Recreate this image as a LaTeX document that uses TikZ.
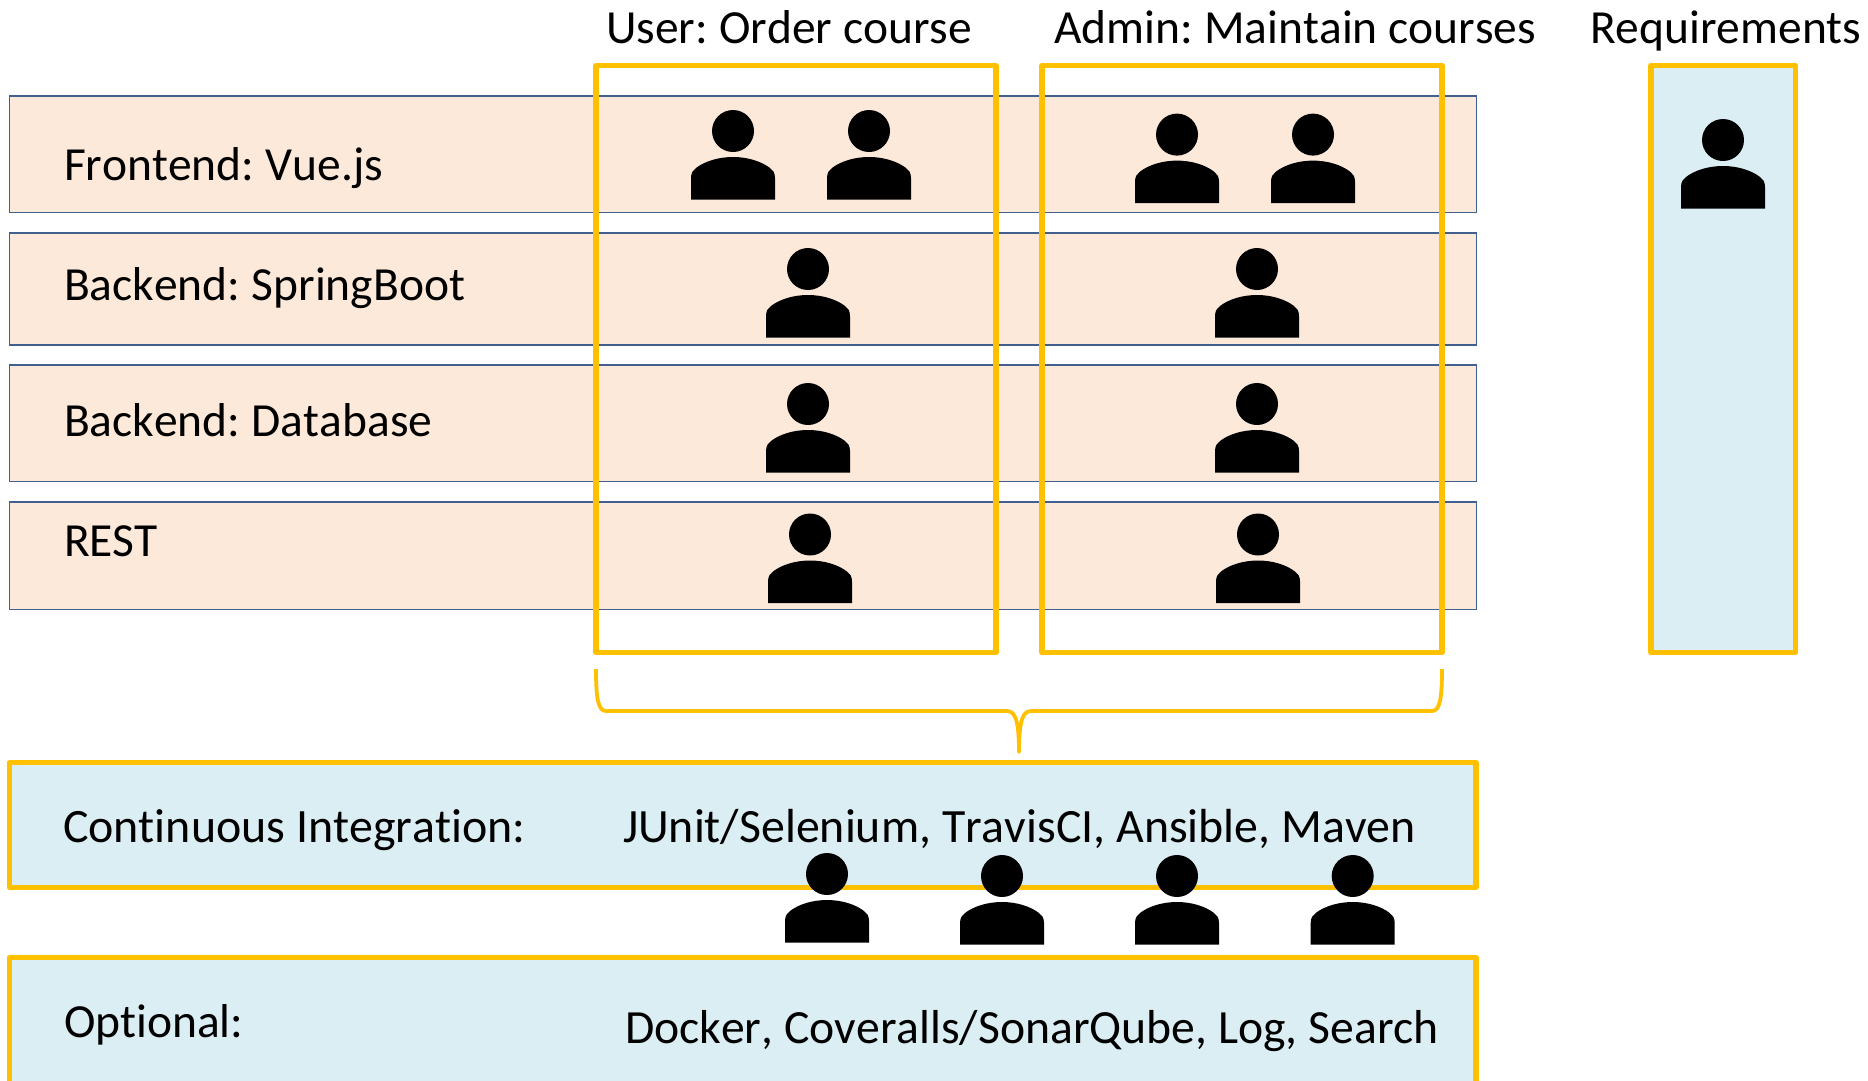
\documentclass[tikz,border=0pt]{standalone}
\usepackage{fontspec}
\setmainfont[Ligatures=NoCommon,Kerning=Off]{Carlito}
\definecolor{peach}{HTML}{FDE9D9}
\definecolor{paleblue}{HTML}{DAEEF3}
\definecolor{gold}{HTML}{FFC000}
\definecolor{rowline}{HTML}{41608F}
\newcommand{\cs}{:\kern0.5pt\ }
\tikzset{
  rowbox/.style={draw=rowline,line width=1.6pt,fill=peach,rectangle,inner sep=0pt,outer sep=0pt,anchor=north west},
  goldbox/.style={draw=gold,line width=5.2pt,rectangle,inner sep=0pt,outer sep=0pt,anchor=north west,line join=round},
  bluebox/.style={goldbox,fill=paleblue},
  lbl/.style={anchor=base west,inner sep=0pt,outer sep=0pt,font=\fontsize{47.5}{55}\selectfont,text=black},
  person/.pic={
    \fill[black] (0,0) circle (21);
    \fill[black] (-42,68.5) -- (-42,47) .. controls (-42,42) and (-40,39) .. (-37,37) .. controls (-28,30) and (-14,26) .. (0,26) .. controls (14,26) and (28,30) .. (37,37) .. controls (40,39) and (42,42) .. (42,47) -- (42,68.5) -- cycle;
  }
}
\begin{document}
\begin{tikzpicture}[x=1pt,y=-1pt]
\useasboundingbox (0,0) rectangle (1868,1080);
\node[rowbox,minimum width=1467pt,minimum height=116.6pt] (r1) at (9.3,95.7) {};
\node[rowbox,minimum width=1467pt,minimum height=112.3pt] (r2) at (9.3,232.7) {};
\node[rowbox,minimum width=1467pt,minimum height=116.3pt] (r3) at (9.3,365) {};
\node[rowbox,minimum width=1467pt,minimum height=107.3pt] (r4) at (9.3,502) {};
\node[goldbox,minimum width=400pt,minimum height=587pt] (user) at (596,65.7) {};
\node[goldbox,minimum width=400pt,minimum height=587pt] (admin) at (1042,65.7) {};
\node[bluebox,minimum width=144.7pt,minimum height=587pt] (req) at (1651,65.7) {};
\node[bluebox,minimum width=1466.7pt,minimum height=124.4pt] (ci) at (9.3,762.7) {};
\node[bluebox,minimum width=1466.7pt,minimum height=130pt] (opt) at (9.3,957.7) {};
\draw[gold,line width=3.8pt,line join=round]
  (596,669) .. controls (596,698) and (598,711) .. (606,711) -- (1006,711)
  .. controls (1014,711) and (1019,716) .. (1019,752)
  .. controls (1019,716) and (1024,711) .. (1032,711) -- (1432,711)
  .. controls (1440,711) and (1442,698) .. (1442,669);
\node[lbl] (t1) at (606,43.2) {User\cs Order course};
\node[lbl] (t2) at (1054,43.2) {Admin\cs Maintain courses};
\node[lbl] (t3) at (1590,43.2) {Requirements};
\node[lbl] (t4) at (64,180) {Frontend\cs Vue.js};
\node[lbl] (t5) at (64,300) {Backend\cs SpringBoot};
\node[lbl] (t6) at (64,436) {Backend\cs Database};
\node[lbl] (t7) at (64,556.7) {REST};
\node[lbl,font=\fontsize{47.9}{55}\selectfont] (t8) at (63,842.7) {Continuous Integration:};
\node[lbl,font=\fontsize{47.8}{55}\selectfont] (t9) at (623,842.7) {JUnit/Selenium, TravisCI, Ansible, Maven};
\node[lbl] (t10) at (64,1037.5) {Optional:};
\node[lbl,font=\fontsize{47.65}{55}\selectfont] (t11) at (625,1043.5) {Docker, Coveralls/SonarQube, Log, Search};
\foreach \px/\py in {733/131,869/131,1177/134.6,1313/134.6,808/269,1257/269,808/404,1257/404,810/534.5,1258/534.5,1723/140,827/874,1002/876,1177/876,1352.7/876}
  \pic at (\px,\py) {person};
\end{tikzpicture}
\end{document}
